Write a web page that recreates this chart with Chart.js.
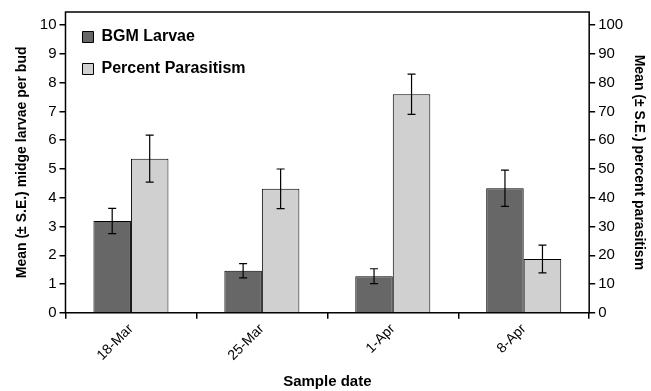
<!DOCTYPE html>
<html>
<head>
<meta charset="utf-8">
<script src="https://cdn.jsdelivr.net/npm/chart.js@4"></script>
<style>
  body { margin: 0; background: #fff; }
  #wrap { width: 651px; height: 391px; }
</style>
</head>
<body>
<div id="wrap"><canvas id="midgeChart"></canvas></div>
<script>
// sample dates and the two series (larvae on left axis, parasitism % on right axis)
const dates = ['18-Mar', '25-Mar', '1-Apr', '8-Apr'];
const larvae = [3.19, 1.46, 1.27, 4.33];
const larvaeSE = [0.44, 0.25, 0.26, 0.63];
const parasitism = [53.6, 43.1, 76.0, 18.7];
const parasitismSE = [8.2, 6.9, 7.0, 4.8];
const errors = [larvaeSE, parasitismSE];

const font = 'Liberation Sans, Arial, sans-serif';

// error bars drawn on top of the bars
const errorBars = {
    id: 'errorBars',
    afterDatasetsDraw(chart) {
        const ctx = chart.ctx;
        ctx.save();
        ctx.strokeStyle = '#000';
        ctx.lineWidth = 1.2;
        chart.data.datasets.forEach((ds, i) => {
            const meta = chart.getDatasetMeta(i);
            const scale = chart.scales[ds.yAxisID];
            meta.data.forEach((bar, j) => {
                const v = ds.data[j], e = errors[i][j];
                const top = scale.getPixelForValue(v + e);
                const bot = scale.getPixelForValue(v - e);
                ctx.beginPath();
                ctx.moveTo(bar.x, top); ctx.lineTo(bar.x, bot);
                ctx.moveTo(bar.x - 4, top); ctx.lineTo(bar.x + 4, top);
                ctx.moveTo(bar.x - 4, bot); ctx.lineTo(bar.x + 4, bot);
                ctx.stroke();
            });
        });
        ctx.restore();
    }
};

// box around the plot area, and nudge the legend inward a bit
const frame = {
    id: 'frame',
    afterLayout(chart) {
        chart.legend.left += 1;
        chart.legend.top += 13;
    },
    beforeDatasetsDraw(chart) {
        const { ctx, chartArea: a } = chart;
        ctx.save();
        ctx.strokeStyle = '#000';
        ctx.lineWidth = 1.5;
        ctx.strokeRect(a.left, a.top, a.right - a.left, a.bottom - a.top);
        ctx.restore();
    }
};

new Chart(document.getElementById('midgeChart'), {
    type: 'bar',
    data: {
        labels: dates,
        datasets: [{
            label: 'BGM Larvae',
            data: larvae,
            yAxisID: 'y',
            backgroundColor: '#676767',
            borderColor: '#000',
            borderWidth: 1
        }, {
            label: 'Percent Parasitism',
            data: parasitism,
            yAxisID: 'y2',
            backgroundColor: '#d0d0d0',
            borderColor: '#000',
            borderWidth: 1
        }]
    },
    options: {
        responsive: true,
        maintainAspectRatio: false,
        animation: false,
        categoryPercentage: 0.573,
        barPercentage: 1,
        layout: { padding: { top: 12, right: 0, left: 8, bottom: 0 } },
        scales: {
            x: {
                grid: { drawOnChartArea: false, color: '#000', tickLength: 6, lineWidth: 1.5 },
                border: { display: false },
                ticks: { color: '#000', font: { family: font, size: 14 }, minRotation: 45, maxRotation: 45, padding: 2 },
                title: { display: true, text: 'Sample date', color: '#000', font: { family: font, size: 15, weight: 'bold' }, padding: { top: 7, bottom: 0 } }
            },
            y: {
                position: 'left',
                min: 0,
                max: 10.46,
                grid: { drawOnChartArea: false, color: '#000', tickLength: 6, lineWidth: 1.5 },
                border: { display: false },
                ticks: { stepSize: 1, includeBounds: false, color: '#000', font: { family: font, size: 15 }, padding: 3 },
                title: { display: true, text: 'Mean (± S.E.) midge larvae per bud', color: '#000', font: { family: font, size: 14, weight: 'bold' }, padding: 6 }
            },
            y2: {
                position: 'right',
                min: 0,
                max: 104.6,
                grid: { drawOnChartArea: false, color: '#000', tickLength: 6, lineWidth: 1.5 },
                border: { display: false },
                ticks: { stepSize: 10, includeBounds: false, color: '#000', font: { family: font, size: 15 }, padding: 3 },
                title: { display: true, text: 'Mean (± S.E.) percent parasitism', color: '#000', font: { family: font, size: 14, weight: 'bold' }, padding: 4 }
            }
        },
        plugins: {
            legend: {
                position: 'chartArea',
                align: 'start',
                labels: {
                    color: '#000',
                    font: { family: font, size: 16, weight: 'bold' },
                    boxWidth: 11,
                    boxHeight: 11,
                    padding: 16
                }
            },
            tooltip: { enabled: false }
        }
    },
    plugins: [frame, errorBars]
});
</script>
</body>
</html>
